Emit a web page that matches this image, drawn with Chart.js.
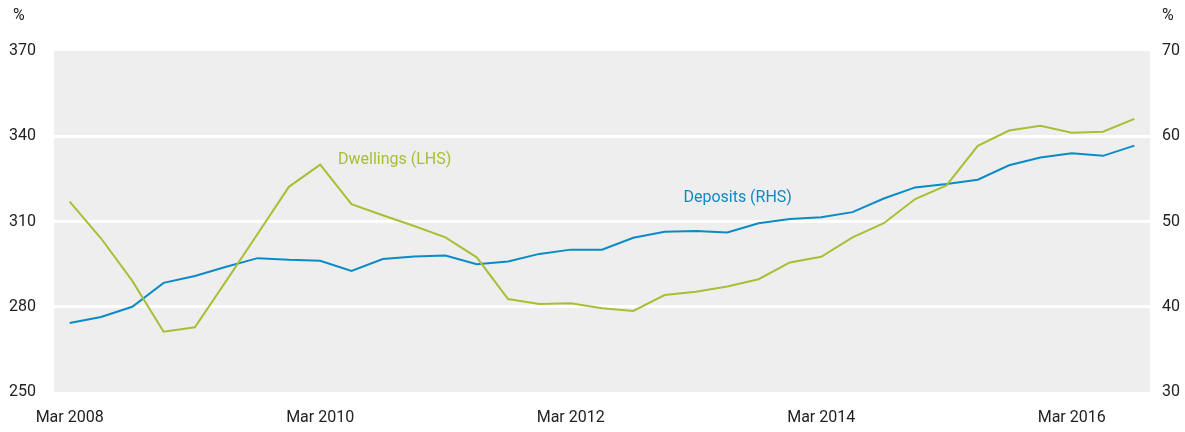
<!DOCTYPE html>
<html>
<head>
<meta charset="utf-8">
<script src="https://cdn.jsdelivr.net/npm/chart.js@4/dist/chart.umd.min.js"></script>
<style>
  html, body { margin: 0; padding: 0; background: #fff; }
  #wrap { width: 1185px; height: 432px; position: relative; }
</style>
</head>
<body>
<div id="wrap"><canvas id="myChart"></canvas></div>
<script>
// quarterly, Mar 2008 - Sep 2016
const quarters = [
  'Mar 2008','Jun 2008','Sep 2008','Dec 2008',
  'Mar 2009','Jun 2009','Sep 2009','Dec 2009',
  'Mar 2010','Jun 2010','Sep 2010','Dec 2010',
  'Mar 2011','Jun 2011','Sep 2011','Dec 2011',
  'Mar 2012','Jun 2012','Sep 2012','Dec 2012',
  'Mar 2013','Jun 2013','Sep 2013','Dec 2013',
  'Mar 2014','Jun 2014','Sep 2014','Dec 2014',
  'Mar 2015','Jun 2015','Sep 2015','Dec 2015',
  'Mar 2016','Jun 2016','Sep 2016'
];

// Dwellings, LHS (%)
const dwellings = [
  317.0, 304.1, 289.1, 271.2, 272.8, 289.1, 305.6, 322.2,
  330.0, 316.1, 312.2, 308.4, 304.4, 297.4, 282.7, 281.0,
  281.2, 279.5, 278.5, 284.1, 285.3, 287.1, 289.7, 295.6,
  297.6, 304.4, 309.4, 317.9, 322.7, 336.6, 342.0, 343.7,
  341.2, 341.6, 346.1
];

// Deposits, RHS (%)
const deposits = [
  38.1, 38.8, 40.0, 42.8, 43.6, 44.7, 45.7, 45.5,
  45.4, 44.2, 45.6, 45.9, 46.0, 45.0, 45.3, 46.2,
  46.7, 46.7, 48.1, 48.8, 48.9, 48.7, 49.8, 50.3,
  50.5, 51.1, 52.7, 54.0, 54.4, 54.9, 56.6, 57.5,
  58.0, 57.7, 58.9
];

const leftTicks = [250, 280, 310, 340, 370];
const rightTicks = [30, 40, 50, 60, 70];

const green = '#a6c036';
const blue = '#0b8bc6';
const textColor = '#222222';
const fontFamily = "'Roboto', 'Liberation Sans', sans-serif";

// grey plot background + % units + series labels
const extras = {
  id: 'extras',
  beforeDraw(chart) {
    const {ctx, chartArea: {left, top, width, height}} = chart;
    ctx.save();
    ctx.fillStyle = '#eeeeee';
    ctx.fillRect(left, top, width, height);
    ctx.restore();
  },
  afterDatasetsDraw(chart) {
    const {ctx, chartArea, scales: {x, y, y1}} = chart;
    ctx.save();
    ctx.font = '16px ' + fontFamily;
    ctx.textBaseline = 'middle';
    ctx.textAlign = 'left';
    ctx.fillStyle = textColor;
    ctx.fillText('%', 13, 16);
    ctx.fillText('%', chartArea.right + 12, 16);

    ctx.fillStyle = green;
    ctx.fillText('Dwellings (LHS)', x.getPixelForValue(8.57), y.getPixelForValue(331.6));
    ctx.fillStyle = blue;
    ctx.fillText('Deposits (RHS)', x.getPixelForValue(19.6), y1.getPixelForValue(52.8));
    ctx.restore();
  }
};

const config = {
  type: 'line',
  data: {
    labels: quarters,
    datasets: [
      {
        label: 'Dwellings (LHS)',
        data: dwellings,
        borderColor: green,
        borderWidth: 2,
        pointRadius: 0,
        tension: 0,
        yAxisID: 'y'
      },
      {
        label: 'Deposits (RHS)',
        data: deposits,
        borderColor: blue,
        borderWidth: 2,
        pointRadius: 0,
        tension: 0,
        yAxisID: 'y1'
      }
    ]
  },
  options: {
    responsive: true,
    maintainAspectRatio: false,
    animation: false,
    layout: { padding: { top: 51, left: 0, right: 0, bottom: 0 } },
    plugins: {
      legend: { display: false },
      tooltip: { enabled: false }
    },
    scales: {
      x: {
        type: 'category',
        offset: true,
        grid: { display: false, drawTicks: false },
        border: { display: false },
        ticks: {
          autoSkip: false,
          maxRotation: 0,
          padding: 16,
          color: textColor,
          font: { size: 16, family: fontFamily },
          callback: (val, i) => (i % 8 === 0 ? quarters[i] : '')
        },
        afterFit: (scale) => { scale.height = 40; }
      },
      y: {
        position: 'left',
        min: leftTicks[0],
        max: leftTicks[leftTicks.length - 1],
        afterBuildTicks: (scale) => { scale.ticks = leftTicks.map(v => ({value: v})); },
        grid: {
          drawTicks: false,
          lineWidth: 3,
          color: (c) => (c.tick && (c.tick.value === 250 || c.tick.value === 370) ? 'rgba(0,0,0,0)' : '#ffffff')
        },
        border: { display: false },
        ticks: {
          padding: 18,
          color: textColor,
          font: { size: 16, family: fontFamily }
        },
        afterFit: (scale) => { scale.width = 54; }
      },
      y1: {
        position: 'right',
        min: rightTicks[0],
        max: rightTicks[rightTicks.length - 1],
        afterBuildTicks: (scale) => { scale.ticks = rightTicks.map(v => ({value: v})); },
        grid: { display: false, drawTicks: false },
        border: { display: false },
        ticks: {
          padding: 12,
          color: textColor,
          font: { size: 16, family: fontFamily }
        },
        afterFit: (scale) => { scale.width = 35; }
      }
    }
  },
  plugins: [extras]
};

const myChart = new Chart(document.getElementById('myChart'), config);
</script>
</body>
</html>
